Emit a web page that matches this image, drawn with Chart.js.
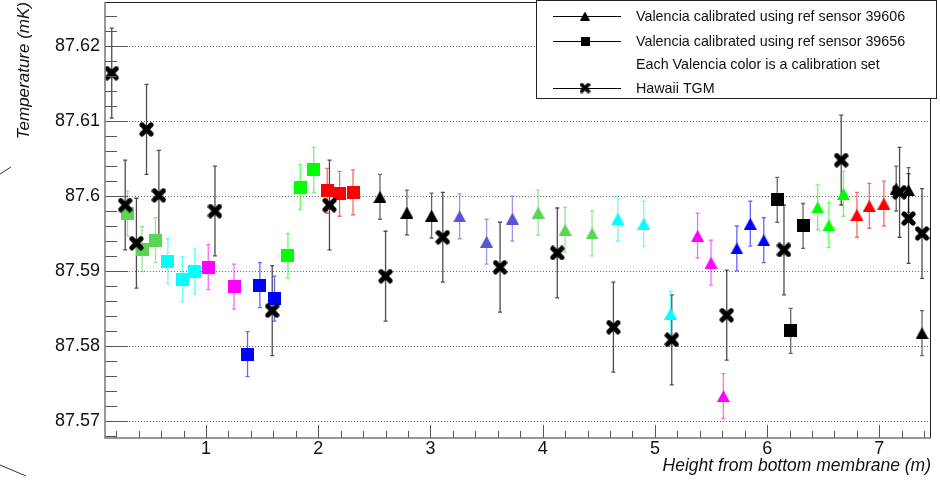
<!DOCTYPE html>
<html>
<head>
<meta charset="utf-8">
<script src="https://cdn.jsdelivr.net/npm/chart.js@4.4.1/dist/chart.umd.min.js"></script>
<style>
  html, body { margin: 0; padding: 0; background: #fff; }
  #wrap { width: 940px; height: 483px; }
</style>
</head>
<body>
<div id="wrap"><canvas id="c" width="940" height="483"></canvas></div>
<script>
// Hawaii TGM: height (m), temperature (mK), uncertainty (mK)
const hawaiiHeight = [0.16, 0.28, 0.38, 0.47, 0.58, 1.08, 1.59, 2.10, 2.60, 3.11, 3.62, 4.13, 4.63, 5.15, 5.64, 6.15, 6.66, 7.18, 7.26, 7.38];
const hawaiiTemp   = [87.6164, 87.5988, 87.5937, 87.6089, 87.6001, 87.5980, 87.5847, 87.5988, 87.5893, 87.5945,
                      87.5905, 87.5924, 87.5825, 87.5808, 87.5841, 87.5928, 87.6048, 87.6005, 87.5970, 87.5950];
const hawaiiErr    = [0.006, 0.006, 0.006, 0.006, 0.006, 0.006, 0.006, 0.006, 0.006, 0.006,
                      0.006, 0.006, 0.006, 0.006, 0.006, 0.006, 0.006, 0.006, 0.006, 0.006];

// Valencia calibrated using ref sensor 39656 (squares); set = calibration set colour index
const sq39656Height = [0.30, 0.43, 0.55, 0.66, 0.79, 0.90, 1.02, 1.25, 1.37, 1.48, 1.61, 1.73, 1.84, 1.96, 2.08, 2.19, 2.31, 6.09, 6.21, 6.32];
const sq39656Temp   = [87.5977, 87.5929, 87.5941, 87.5913, 87.5889, 87.5899, 87.5905, 87.5879, 87.5789, 87.5881,
                       87.5863, 87.5920, 87.6012, 87.6035, 87.6007, 87.6003, 87.6005, 87.5995, 87.5820, 87.5960];
const sq39656Err    = [0.003, 0.003, 0.003, 0.003, 0.003, 0.003, 0.003, 0.003, 0.003, 0.003,
                       0.003, 0.003, 0.003, 0.003, 0.003, 0.003, 0.003, 0.003, 0.003, 0.003];
const sq39656Set    = [8, 8, 8, 7, 7, 7, 6, 6, 4, 4, 4, 3, 3, 3, 2, 2, 2, 1, 1, 1];

// Valencia calibrated using ref sensor 39606 (triangles)
const tri39606Height = [2.55, 2.79, 3.01, 3.26, 3.50, 3.73, 3.96, 4.20, 4.44, 4.67, 4.90, 5.14, 5.38, 5.50,
                        5.61, 5.73, 5.85, 5.97, 6.45, 6.55, 6.68, 6.80, 6.91, 7.04, 7.15, 7.26, 7.38];
const tri39606Temp   = [87.5999, 87.5978, 87.5974, 87.5973, 87.5939, 87.5970, 87.5978, 87.5955, 87.5950, 87.5970,
                        87.5963, 87.5843, 87.5947, 87.5911, 87.5733, 87.5930, 87.5963, 87.5941, 87.5985, 87.5961,
                        87.6003, 87.5975, 87.5987, 87.5990, 87.6010, 87.6008, 87.5817];
const tri39606Err    = [0.003, 0.003, 0.003, 0.003, 0.003, 0.003, 0.003, 0.003, 0.003, 0.003,
                        0.003, 0.003, 0.003, 0.003, 0.003, 0.003, 0.003, 0.003, 0.003, 0.003,
                        0.003, 0.003, 0.003, 0.003, 0.003, 0.003, 0.003];
const tri39606Set    = [1, 1, 1, 9, 9, 9, 8, 8, 8, 7, 7, 7, 6, 6, 6, 4, 4, 4, 3, 3, 3, 2, 2, 2, 1, 1, 1];

const legendLabels = [
  'Valencia calibrated using ref sensor 39606',
  'Valencia calibrated using ref sensor 39656',
  'Each Valencia color is a calibration set',
  'Hawaii TGM'
];
const xTitle = 'Height from bottom membrane (m)';
const yTitle = 'Temperature (mK)';

// ROOT-style colour indices
const palette = {
  1: [0, 0, 0], 2: [255, 0, 0], 3: [0, 255, 0], 4: [0, 0, 255],
  6: [255, 0, 255], 7: [0, 255, 255], 8: [89, 212, 84], 9: [89, 84, 216]
};
const rgb = (c, a = 1) => `rgba(${c[0]},${c[1]},${c[2]},${a})`;

// ---- marker sprites ----
const spriteCache = {};
function sprite(kind, color, size) {
  const key = kind + color + size;
  if (spriteCache[key]) return spriteCache[key];
  const c = document.createElement('canvas');
  const g = c.getContext('2d');
  if (kind === 'square') {
    c.width = c.height = size;
    g.fillStyle = color;
    g.fillRect(0, 0, size, size);
  } else if (kind === 'triangle') {
    c.width = size + 1; c.height = size;
    g.fillStyle = color;
    g.beginPath();
    g.moveTo((size + 1) / 2, 0);
    g.lineTo(size + 1, size);
    g.lineTo(0, size);
    g.closePath();
    g.fill();
  } else {
    c.width = c.height = size;
    g.strokeStyle = color;
    g.lineWidth = size * 0.34;
    g.lineCap = 'round';
    const m = size * 0.2, n = size - m;
    g.beginPath();
    g.moveTo(m, m); g.lineTo(n, n);
    g.moveTo(n, m); g.lineTo(m, n);
    g.stroke();
  }
  spriteCache[key] = c;
  return c;
}

function points(hs, ts, es) {
  return hs.map((h, i) => ({ x: h, y: ts[i], err: es[i] }));
}

const FONT = "'Liberation Sans', Arial, Helvetica, sans-serif";

const datasets = [
  {
    label: legendLabels[3],
    data: points(hawaiiHeight, hawaiiTemp, hawaiiErr),
    pointStyle: sprite('cross', '#000', 15),
    errColor: hawaiiHeight.map(() => 'rgba(0,0,0,0.7)')
  },
  {
    label: legendLabels[1],
    data: points(sq39656Height, sq39656Temp, sq39656Err),
    pointStyle: sq39656Set.map(s => sprite('square', rgb(palette[s]), 13)),
    errColor: sq39656Set.map(s => rgb(palette[s], 0.6))
  },
  {
    label: legendLabels[0],
    data: points(tri39606Height, tri39606Temp, tri39606Err),
    pointStyle: tri39606Set.map(s => sprite('triangle', rgb(palette[s]), 12)),
    errColor: tri39606Set.map(s => rgb(palette[s], 0.6))
  }
].map(d => Object.assign(d, { pointRadius: 6, pointHoverRadius: 6, showLine: false }));

// ---- frame, ticks, dotted grid, error bars, legend ----
const decorations = {
  id: 'decorations',
  beforeDatasetsDraw(chart) {
    const { ctx, chartArea: a, scales: { x, y } } = chart;
    ctx.save();
    // dotted grid at major temperature ticks
    ctx.strokeStyle = '#666';
    ctx.lineWidth = 1;
    ctx.setLineDash([1, 2]);
    for (let k = Math.ceil(y.min / 0.01 - 1e-9); k * 0.01 <= y.max; k++) {
      const py = Math.round(y.getPixelForValue(k * 0.01)) + 0.5;
      ctx.beginPath(); ctx.moveTo(a.left, py); ctx.lineTo(a.right, py); ctx.stroke();
    }
    ctx.setLineDash([]);
    // error bars
    ctx.lineWidth = 1.3;
    chart.data.datasets.forEach(ds => {
      ds.data.forEach((p, j) => {
        const px = x.getPixelForValue(p.x);
        const y1 = y.getPixelForValue(p.y - p.err);
        const y2 = y.getPixelForValue(p.y + p.err);
        ctx.strokeStyle = ds.errColor[j];
        ctx.beginPath();
        ctx.moveTo(px, y1); ctx.lineTo(px, y2);
        ctx.moveTo(px - 2, y1); ctx.lineTo(px + 2, y1);
        ctx.moveTo(px - 2, y2); ctx.lineTo(px + 2, y2);
        ctx.stroke();
      });
    });
    ctx.restore();
  },
  afterDatasetsDraw(chart) {
    const { ctx, chartArea: a, scales: { x, y } } = chart;
    ctx.save();
    // ticks drawn inward
    ctx.strokeStyle = '#555';
    ctx.lineWidth = 1;
    for (let k = Math.ceil(y.min / 0.002 - 1e-9); k * 0.002 <= y.max + 1e-9; k++) {
      const py = Math.round(y.getPixelForValue(k * 0.002)) + 0.5;
      const len = (k % 5 === 0) ? 23 : 12;
      ctx.beginPath(); ctx.moveTo(a.left, py); ctx.lineTo(a.left + len, py); ctx.stroke();
    }
    for (let k = Math.ceil(x.min / 0.2 - 1e-9); k * 0.2 <= x.max + 1e-9; k++) {
      const px = Math.round(x.getPixelForValue(k * 0.2)) + 0.5;
      const len = (k % 5 === 0) ? 13 : 7;
      ctx.beginPath(); ctx.moveTo(px, a.bottom); ctx.lineTo(px, a.bottom - len); ctx.stroke();
    }
    // frame
    ctx.strokeStyle = '#222';
    ctx.lineWidth = 1;
    ctx.beginPath();
    ctx.moveTo(a.left, a.top + 0.5); ctx.lineTo(a.right - 0.5, a.top + 0.5); ctx.lineTo(a.right - 0.5, a.bottom);
    ctx.stroke();
    ctx.strokeStyle = '#777';
    ctx.lineWidth = 1.5;
    ctx.beginPath();
    ctx.moveTo(a.left, a.top); ctx.lineTo(a.left, a.bottom); ctx.lineTo(a.right, a.bottom);
    ctx.stroke();
    ctx.restore();
  },
  afterDraw(chart) {
    const { ctx } = chart;
    ctx.save();
    // legend box
    const L = 536.5, T = 0.5, R = 936.5, B = 98.5;
    ctx.fillStyle = '#fff';
    ctx.fillRect(L, T, R - L, B - T);
    ctx.strokeStyle = '#222';
    ctx.lineWidth = 1;
    ctx.strokeRect(L, T, R - L, B - T);
    const rows = [16, 41, 64, 88];
    const markers = ['triangle', 'square', null, 'cross'];
    ctx.font = `14.3px ${FONT}`;
    ctx.textBaseline = 'middle';
    ctx.fillStyle = '#111';
    rows.forEach((ry, i) => {
      if (markers[i]) {
        ctx.strokeStyle = '#000';
        ctx.lineWidth = 1;
        ctx.beginPath(); ctx.moveTo(553, ry + 0.5); ctx.lineTo(621, ry + 0.5); ctx.stroke();
        const s = sprite(markers[i], '#000', markers[i] === 'cross' ? 11 : 9);
        ctx.drawImage(s, 585 - s.width / 2, ry - s.height / 2);
      }
      ctx.fillStyle = '#111';
      ctx.fillText(legendLabels[i], 636, ry + 1);
    });
    // small marks at the left edge of the pad
    ctx.strokeStyle = '#333';
    ctx.lineWidth = 1;
    ctx.beginPath();
    ctx.moveTo(0, 174); ctx.lineTo(11, 167);
    ctx.moveTo(0, 465); ctx.lineTo(26, 476);
    ctx.stroke();
    ctx.restore();
  }
};

new Chart(document.getElementById('c'), {
  type: 'scatter',
  data: { datasets },
  options: {
    responsive: false,
    animation: false,
    events: [],
    layout: { autoPadding: false, padding: { top: 2, right: 9, left: 0, bottom: 0 } },
    plugins: { legend: { display: false }, tooltip: { enabled: false } },
    scales: {
      x: {
        type: 'linear', min: 0.1, max: 7.46,
        grid: { display: false, drawTicks: false }, border: { display: false },
        ticks: {
          stepSize: 1, includeBounds: false, maxRotation: 0, padding: 0,
          color: '#111', font: { family: FONT, size: 18 },
          callback: v => String(Math.round(v))
        },
        title: {
          display: true, text: xTitle, align: 'end', color: '#111',
          font: { family: FONT, size: 17.5, style: 'italic' }, padding: { top: 0, bottom: 6 }
        },
        afterFit: s => { s.height = 45; s.paddingLeft = 0; s.paddingRight = 0; }
      },
      y: {
        type: 'linear', min: 87.5677, max: 87.6259,
        grid: { display: false, drawTicks: false }, border: { display: false },
        ticks: {
          stepSize: 0.01, includeBounds: false, padding: 5,
          color: '#111', font: { family: FONT, size: 18 },
          callback: v => String(parseFloat(v.toFixed(2)))
        },
        title: {
          display: true, text: yTitle, align: 'end', color: '#111',
          font: { family: FONT, size: 17, style: 'italic' }, padding: { top: 14, bottom: 0 }
        },
        afterFit: s => { s.width = 105; s.paddingTop = 0; s.paddingBottom = 0; }
      }
    }
  },
  plugins: [decorations]
});
</script>
</body>
</html>
